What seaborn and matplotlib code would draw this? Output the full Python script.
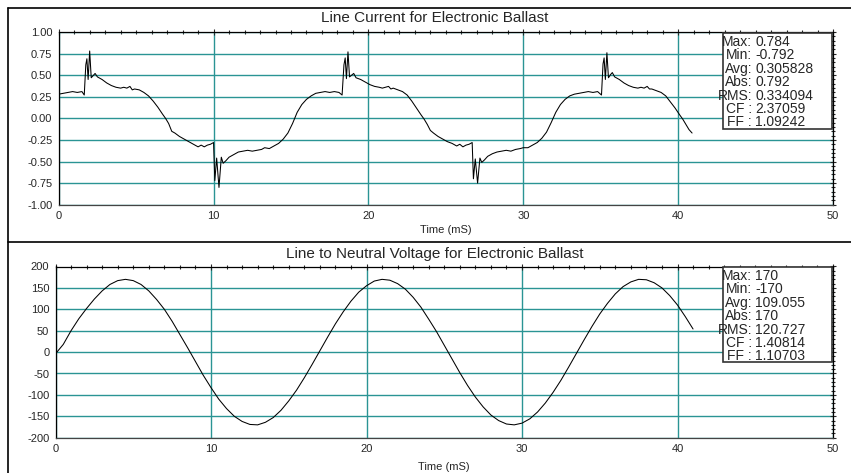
import numpy as np
import pandas as pd
import matplotlib
matplotlib.use("Agg")
import matplotlib.pyplot as plt
from matplotlib.lines import Line2D
from matplotlib.patches import Rectangle
from matplotlib.ticker import MultipleLocator, FormatStrFormatter
import seaborn as sns

# Line current trace (time in ms, current in A)
cur_t = [0.0, 0.3, 0.6, 0.9, 1.2, 1.5, 1.65, 1.75, 1.82, 1.9, 2.0, 2.1, 2.25, 2.35, 2.5,
         2.8, 3.1, 3.4, 3.7, 4.0, 4.2, 4.4, 4.6, 4.75, 4.9, 5.2, 5.5, 5.8, 6.1, 6.4,
         6.7, 6.9, 7.1, 7.3, 7.5, 7.8, 8.1, 8.4, 8.7, 9.0, 9.2, 9.4, 9.6, 9.8, 10.0,
         10.08, 10.2, 10.35, 10.5, 10.62, 10.8, 11.0, 11.3, 11.6, 11.9, 12.2, 12.5, 12.8,
         13.1, 13.3, 13.6, 13.9, 14.2, 14.5, 14.8, 15.1, 15.4, 15.7, 16.0, 16.3, 16.6,
         16.9, 17.2, 17.5, 17.8, 18.1, 18.3, 18.42, 18.5, 18.58, 18.68, 18.78, 18.92, 19.05,
         19.2, 19.5, 19.8, 20.1, 20.4, 20.7, 20.9, 21.1, 21.3, 21.45, 21.6, 21.9, 22.2,
         22.5, 22.8, 23.1, 23.4, 23.6, 23.8, 24.0, 24.2, 24.5, 24.8, 25.1, 25.4, 25.7,
         25.9, 26.1, 26.3, 26.5, 26.7, 26.78, 26.9, 27.05, 27.2, 27.32, 27.5, 27.7, 28.0,
         28.3, 28.6, 28.9, 29.2, 29.5, 29.8, 30.0, 30.3, 30.6, 30.9, 31.2, 31.5, 31.8,
         32.1, 32.4, 32.7, 33.0, 33.3, 33.6, 33.9, 34.2, 34.5, 34.8, 35.05, 35.15, 35.22,
         35.3, 35.4, 35.5, 35.65, 35.75, 35.9, 36.2, 36.5, 36.8, 37.1, 37.4, 37.6, 37.8,
         38.0, 38.15, 38.3, 38.6, 38.9, 39.2, 39.5, 39.8, 40.1, 40.3, 40.5, 40.7, 40.9]
cur_v = [0.28, 0.29, 0.30, 0.31, 0.30, 0.31, 0.27, 0.62, 0.69, 0.45, 0.78, 0.47, 0.50, 0.52, 0.48,
         0.45, 0.41, 0.38, 0.36, 0.35, 0.36, 0.35, 0.37, 0.33, 0.34, 0.33, 0.30, 0.26, 0.20, 0.13,
         0.05, 0.00, -0.06, -0.15, -0.17, -0.21, -0.24, -0.27, -0.30, -0.33, -0.31, -0.33, -0.31, -0.30, -0.28,
         -0.72, -0.46, -0.80, -0.45, -0.52, -0.49, -0.45, -0.42, -0.39, -0.38, -0.37, -0.38, -0.37,
         -0.36, -0.34, -0.35, -0.32, -0.29, -0.24, -0.17, -0.06, 0.07, 0.16, 0.22, 0.26, 0.29,
         0.30, 0.31, 0.30, 0.31, 0.30, 0.27, 0.62, 0.70, 0.46, 0.77, 0.48, 0.50, 0.52,
         0.47, 0.45, 0.42, 0.39, 0.37, 0.36, 0.35, 0.36, 0.37, 0.34, 0.35, 0.33, 0.31,
         0.27, 0.20, 0.12, 0.04, -0.01, -0.07, -0.14, -0.17, -0.21, -0.24, -0.27, -0.29, -0.32,
         -0.30, -0.33, -0.31, -0.30, -0.28, -0.70, -0.47, -0.75, -0.46, -0.51, -0.48, -0.44, -0.41,
         -0.39, -0.38, -0.37, -0.38, -0.36, -0.35, -0.34, -0.34, -0.31, -0.28, -0.23, -0.16, -0.05,
         0.07, 0.16, 0.22, 0.26, 0.28, 0.29, 0.30, 0.31, 0.30, 0.31, 0.27, 0.63, 0.70,
         0.45, 0.76, 0.47, 0.51, 0.53, 0.48, 0.45, 0.41, 0.38, 0.36, 0.35, 0.36, 0.35,
         0.37, 0.34, 0.34, 0.32, 0.30, 0.26, 0.19, 0.12, 0.04, -0.01, -0.07, -0.13, -0.17]

# Line to neutral voltage trace (time in ms, volts)
volt_t = [0.0, 0.5, 1.0, 1.5, 2.0, 2.5, 3.0, 3.5, 4.0, 4.5, 5.0, 5.5, 6.0, 6.5, 7.0, 7.5, 8.0,
          8.5, 9.0, 9.5, 10.0, 10.5, 11.0, 11.5, 12.0, 12.5, 13.0, 13.5, 14.0, 14.5, 15.0,
          15.5, 16.0, 16.5, 17.0, 17.5, 18.0, 18.5, 19.0, 19.5, 20.0, 20.5, 21.0, 21.5,
          22.0, 22.5, 23.0, 23.5, 24.0, 24.5, 25.0, 25.5, 26.0, 26.5, 27.0, 27.5, 28.0,
          28.5, 29.0, 29.5, 30.0, 30.5, 31.0, 31.5, 32.0, 32.5, 33.0, 33.5, 34.0, 34.5,
          35.0, 35.5, 36.0, 36.5, 37.0, 37.5, 38.0, 38.5, 39.0, 39.5, 40.0, 40.5, 41.0]
volt_v = [-4, 18, 50, 78, 102, 124, 143, 158, 167, 170, 167, 158, 143, 123, 100, 72, 41,
          10, -22, -54, -83, -110, -132, -150, -162, -169, -170, -164, -153, -136, -114,
          -89, -60, -29, 3, 35, 66, 94, 119, 140, 155, 166, 170, 168,
          160, 147, 128, 105, 77, 48, 16, -16, -48, -78, -105, -128, -147,
          -160, -168, -170, -166, -156, -140, -119, -94, -66, -35, -3, 29, 60,
          89, 114, 136, 153, 164, 170, 169, 162, 150, 132, 110, 83, 54]

stat_labels = ["Max:", "Min:", "Avg:", "Abs:", "RMS:", "CF :", "FF :"]
cur_stats = ["0.784", "-0.792", "0.305828", "0.792", "0.334094", "2.37059", "1.09242"]
volt_stats = ["170", "-170", "109.055", "170", "120.727", "1.40814", "1.10703"]

W, H = 851, 473
sns.set_style("white")
plt.rcParams['font.family'] = ['Liberation Sans', 'DejaVu Sans']

fig = plt.figure(figsize=(W / 100, H / 100), dpi=100)
teal = "#2a9494"


def fx(px):
    return px / W


def fy(py):
    return 1 - py / H


def setup(ax, df, ycol, ymaj, ymin, fmt, ylim, lpad):
    sns.lineplot(data=df, x="t", y=ycol, ax=ax, color="black", lw=0.75)
    ax.set_xlim(0, 50)
    ax.set_ylim(*ylim)
    ax.xaxis.set_major_locator(MultipleLocator(10))
    ax.xaxis.set_minor_locator(MultipleLocator(1))
    ax.yaxis.set_major_locator(MultipleLocator(ymaj))
    ax.yaxis.set_minor_locator(MultipleLocator(ymin))
    ax.yaxis.set_major_formatter(FormatStrFormatter(fmt))
    ax.grid(True, which="major", color=teal, lw=1.0)
    ax.set_axisbelow(True)
    ax.tick_params(which="both", direction="inout", top=True, right=True,
                   labelsize=8, pad=2, width=0.8)
    ax.tick_params(which="major", length=5)
    ax.tick_params(which="minor", length=3)
    for s in ax.spines.values():
        s.set_color("black")
        s.set_linewidth(0.9)
    ax.spines["bottom"].set_color("#444444")
    ax.set_xlabel("Time (mS)", fontsize=8, labelpad=lpad)
    ax.set_ylabel("")


def stats_box(left, top, right, bottom, values):
    fig.add_artist(Rectangle((fx(left), fy(bottom)), fx(right - left), (bottom - top) / H,
                             transform=fig.transFigure, facecolor="white",
                             edgecolor="#333333", lw=1.2, zorder=5))
    for k, (lab, val) in enumerate(zip(stat_labels, values)):
        y = fy(top + 9 + 13.4 * k)
        fig.text(fx(752), y, lab, ha="right", va="center", fontsize=10, zorder=6)
        fig.text(fx(755), y, val, ha="left", va="center", fontsize=10, zorder=6)


cur_df = pd.DataFrame({"t": cur_t, "i": cur_v})
volt_df = pd.DataFrame({"t": volt_t, "v": volt_v})

ax1 = fig.add_axes([fx(58.7), fy(204.7), fx(833 - 58.7), (204.7 - 32) / H])
setup(ax1, cur_df, "i", 0.25, 0.05, "%.2f", (-1, 1), 3)
ax2 = fig.add_axes([fx(55.5), fy(437.7), fx(833 - 55.5), (437.7 - 266.5) / H])
setup(ax2, volt_df, "v", 50, 10, "%d", (-200, 200), 6)

fig.text(fx(435), fy(18), "Line Current for Electronic Ballast", ha="center", va="center", fontsize=11)
fig.text(fx(435), fy(254), "Line to Neutral Voltage for Electronic Ballast", ha="center", va="center", fontsize=11)

stats_box(723, 33, 832, 129, cur_stats)
stats_box(723, 267, 832, 362, volt_stats)

# outer panel frame lines
for xs, ys in [([8, 8], [8, H]), ([8, W], [8, 8]), ([8, W], [242, 242])]:
    fig.add_artist(Line2D([fx(x) for x in xs], [fy(y) for y in ys],
                          transform=fig.transFigure, color="black", lw=1.2))

fig.savefig("out.png", dpi=100)
